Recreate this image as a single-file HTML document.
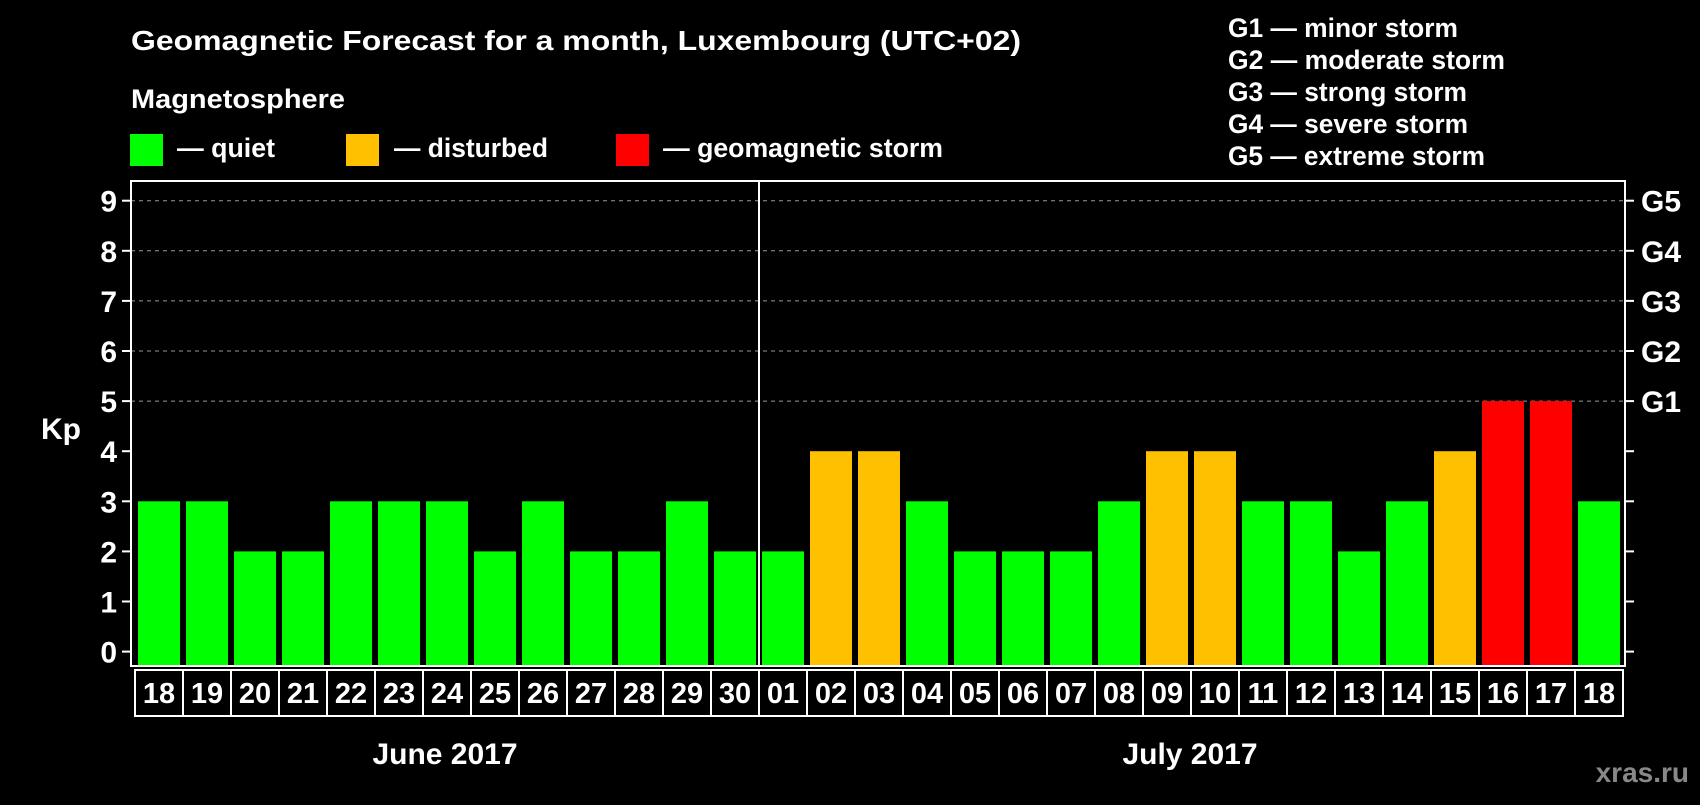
<!DOCTYPE html>
<html><head><meta charset="utf-8"><style>
html,body{margin:0;padding:0;background:#000;}
svg text{font-family:"Liberation Sans",Arial,sans-serif;font-weight:bold;fill:#fff;}
</style></head><body>
<svg width="1700" height="800" viewBox="0 0 1700 800" xmlns="http://www.w3.org/2000/svg">
<rect width="1700" height="800" fill="#000"/>
<text x="131" y="50" font-size="28" textLength="890" lengthAdjust="spacingAndGlyphs">Geomagnetic Forecast for a month, Luxembourg (UTC+02)</text>
<text x="131" y="108" font-size="27" textLength="214" lengthAdjust="spacingAndGlyphs">Magnetosphere</text>
<g><rect x="130" y="134" width="33" height="32" fill="#00ff00"/><text x="177" y="157" font-size="27" textLength="98" lengthAdjust="spacingAndGlyphs">— quiet</text></g>
<g><rect x="346" y="134" width="33" height="32" fill="#ffc000"/><text x="394" y="157" font-size="27" textLength="154" lengthAdjust="spacingAndGlyphs">— disturbed</text></g>
<g><rect x="616" y="134" width="33" height="32" fill="#ff0000"/><text x="663" y="157" font-size="27" textLength="280" lengthAdjust="spacingAndGlyphs">— geomagnetic storm</text></g>
<g font-size="27">
<text x="1228" y="37" textLength="230" lengthAdjust="spacingAndGlyphs">G1 — minor storm</text>
<text x="1228" y="69" textLength="277" lengthAdjust="spacingAndGlyphs">G2 — moderate storm</text>
<text x="1228" y="101" textLength="239" lengthAdjust="spacingAndGlyphs">G3 — strong storm</text>
<text x="1228" y="133" textLength="240" lengthAdjust="spacingAndGlyphs">G4 — severe storm</text>
<text x="1228" y="165" textLength="257" lengthAdjust="spacingAndGlyphs">G5 — extreme storm</text>
</g>
<text x="41" y="439" font-size="30">Kp</text>
<g id="grid"></g><g id="bars"></g><g id="axes"></g><g id="dates"></g>
<text x="445" y="764" font-size="30" text-anchor="middle">June 2017</text>
<text x="1190" y="764" font-size="30" text-anchor="middle">July 2017</text>
<text x="1689" y="782" font-size="28" text-anchor="end" style="fill:#888">xras.ru</text>
</svg>
<script>
const days=["18","19","20","21","22","23","24","25","26","27","28","29","30","01","02","03","04","05","06","07","08","09","10","11","12","13","14","15","16","17","18"];
const kp=[3,3,2,2,3,3,3,2,3,2,2,3,2,2,4,4,3,2,2,2,3,4,4,3,3,2,3,4,5,5,3];
const yTicks=[0,1,2,3,4,5,6,7,8,9];
const gLabels=["G1","G2","G3","G4","G5"];
const NS="http://www.w3.org/2000/svg";
const L=131,R=1625,T=181,B=666,pitch=48,bw=42;
function y(v){return 651.6-v*50.1;}
function xb(i){return 138+i*pitch;}
function mk(t,a,p){const e=document.createElementNS(NS,t);for(const k in a)e.setAttribute(k,a[k]);p.appendChild(e);return e;}
const grid=document.getElementById('grid'),bars=document.getElementById('bars'),axes=document.getElementById('axes'),dates=document.getElementById('dates');
yTicks.forEach(v=>{
 if(v>=5){const g=mk('line',{x1:L,x2:R,y1:y(v),y2:y(v),stroke:'#999','stroke-dasharray':'4,4','stroke-width':1},grid);
 }
 const t=mk('line',{x1:L-9,x2:L,y1:y(v),y2:y(v),stroke:'#fff','stroke-width':2},axes);
 
 const t2=mk('line',{x1:R,x2:R+9,y1:y(v),y2:y(v),stroke:'#fff','stroke-width':2},axes);
 
 const l=mk('text',{x:L-14,y:y(v)+11,'font-size':30,'text-anchor':'end'},axes);l.textContent=v;
 
 if(v>=5){const g=mk('text',{x:R+16,y:y(v)+11,'font-size':30},axes);g.textContent=gLabels[v-5];
 }
});
kp.forEach((v,i)=>{
 const c=v>=5?'#ff0000':v>=4?'#ffc000':'#00ff00';
 const r=mk('rect',{x:xb(i),y:y(v),width:bw,height:B-y(v),fill:c},bars);
 
});
const f=mk('rect',{x:L,y:T,width:R-L,height:B-T,fill:'none',stroke:'#fff','stroke-width':2},axes);

const sep=mk('line',{x1:xb(13)-3,x2:xb(13)-3,y1:T,y2:B,stroke:'#fff','stroke-width':2},axes);

days.forEach((d,i)=>{
 const bx=mk('rect',{x:xb(i)-3,y:670,width:pitch,height:46,fill:'#000',stroke:'#fff','stroke-width':2},dates);
 
 const t=mk('text',{x:xb(i)+bw/2,y:703,'font-size':29,'text-anchor':'middle'},dates);t.textContent=d;
 
});
</script>
</body></html>
